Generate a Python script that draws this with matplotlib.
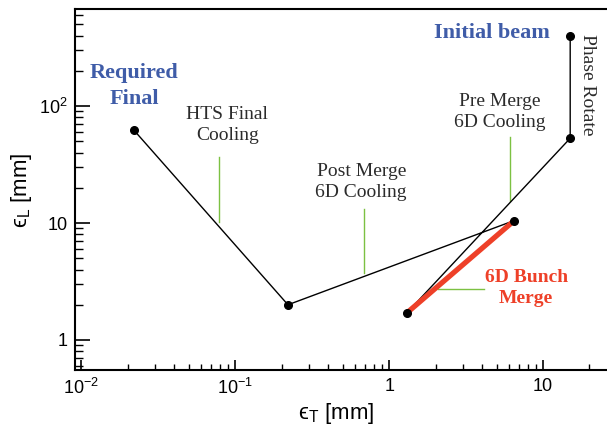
import matplotlib
matplotlib.use('Agg')
import matplotlib.pyplot as plt
from matplotlib.ticker import FixedLocator, FixedFormatter, LogLocator, NullFormatter

# emittance path through the cooling channel (eps_T, eps_L) in mm
path_t = [15.0, 15.0, 1.3, 6.5, 0.22, 0.022]
path_l = [400.0, 53.0, 1.7, 10.5, 2.0, 62.0]

# bunch merge segment
merge_t = [1.3, 6.5]
merge_l = [1.7, 10.5]

# pointer lines from the stage labels
ptr_hts_t = [0.079, 0.079]
ptr_hts_l = [36.5, 10.2]
ptr_post_t = [0.69, 0.69]
ptr_post_l = [13.2, 3.75]
ptr_pre_t = [6.1, 6.1]
ptr_pre_l = [54.0, 15.4]
ptr_merge_t = [2.08, 4.14]
ptr_merge_l = [2.73, 2.73]

xticks = [0.01, 0.1, 1, 10]
xtick_labels = ['$10^{-2}$', '$10^{-1}$', '1', '10']
yticks = [1, 10, 100]
ytick_labels = ['1', '10', '$10^{2}$']

plt.rcParams['font.family'] = ['Liberation Sans', 'DejaVu Sans']
plt.rcParams['mathtext.fontset'] = 'custom'
plt.rcParams['mathtext.rm'] = 'Liberation Sans'
plt.rcParams['mathtext.it'] = 'Liberation Sans:italic'

fig = plt.figure(figsize=(6.07, 4.28), dpi=100)
ax = fig.add_axes([0.1236, 0.1355, 0.8921, 0.8435])
ax.set_xscale('log')
ax.set_yscale('log')
ax.set_xlim(0.0091, 30)
ax.set_ylim(0.554, 675)

green = '#7cc142'
for xs, ys in [(ptr_hts_t, ptr_hts_l), (ptr_post_t, ptr_post_l),
               (ptr_pre_t, ptr_pre_l), (ptr_merge_t, ptr_merge_l)]:
    ax.plot(xs, ys, color=green, lw=1.0, zorder=1)

ax.plot(path_t, path_l, color='black', lw=1.0, zorder=2)
ax.plot(merge_t, merge_l, color='#ee4028', lw=3.8, solid_capstyle='round', zorder=3)
ax.plot(path_t, path_l, 'o', color='black', ms=5.5, zorder=4)

serif = ['Liberation Serif', 'DejaVu Serif']
blue = '#3f5ca8'
gray = '#2b2b2b'
ax.text(0.0221, 148, 'Required\nFinal', family=serif, fontsize=16, fontweight='bold',
        color=blue, ha='center', va='center', linespacing=1.45)
ax.text(4.67, 421, 'Initial beam', family=serif, fontsize=16, fontweight='bold',
        color=blue, ha='center', va='center')
ax.text(0.0887, 68.8, 'HTS Final\nCooling', family=serif, fontsize=14, color=gray,
        ha='center', va='center', linespacing=1.3)
ax.text(0.658, 22.4, 'Post Merge\n6D Cooling', family=serif, fontsize=14, color=gray,
        ha='center', va='center', linespacing=1.3)
ax.text(5.26, 88.9, 'Pre Merge\n6D Cooling', family=serif, fontsize=14, color=gray,
        ha='center', va='center', linespacing=1.3)
ax.text(7.76, 2.78, '6D Bunch\nMerge', family=serif, fontsize=14, fontweight='bold',
        color='#ee4028', ha='center', va='center', linespacing=1.3)
ax.text(19.3, 151, 'Phase Rotate', family=serif, fontsize=14, color=gray,
        rotation=270, ha='center', va='center')

# axes in the ROOT look: ticks inside, top frame drawn
ax.xaxis.set_major_locator(FixedLocator(xticks))
ax.xaxis.set_major_formatter(FixedFormatter(xtick_labels))
ax.yaxis.set_major_locator(FixedLocator(yticks))
ax.yaxis.set_major_formatter(FixedFormatter(ytick_labels))
ax.xaxis.set_minor_locator(LogLocator(base=10, subs=range(2, 10)))
ax.yaxis.set_minor_locator(LogLocator(base=10, subs=range(2, 10)))
ax.xaxis.set_minor_formatter(NullFormatter())
ax.yaxis.set_minor_formatter(NullFormatter())
ax.tick_params(axis='x', which='major', direction='in', length=7, width=1.2,
               labelsize=13, pad=6)
ax.tick_params(axis='x', which='minor', direction='in', length=4, width=1.0)
ax.tick_params(axis='y', which='major', direction='in', length=11, width=1.2,
               labelsize=13, pad=5)
ax.tick_params(axis='y', which='minor', direction='in', length=6, width=1.0)
for s in ax.spines.values():
    s.set_linewidth(1.5)

fig.text(336 / 607, 1 - 413 / 428, '\u03f5$_{\\mathrm{T}}$ [mm]', fontsize=16,
         ha='center', va='center')
fig.text(22 / 607, 1 - 190 / 428, '\u03f5$_{\\mathrm{L}}$ [mm]', fontsize=16,
         ha='center', va='center', rotation=90)

plt.savefig('out.png', dpi=100)
